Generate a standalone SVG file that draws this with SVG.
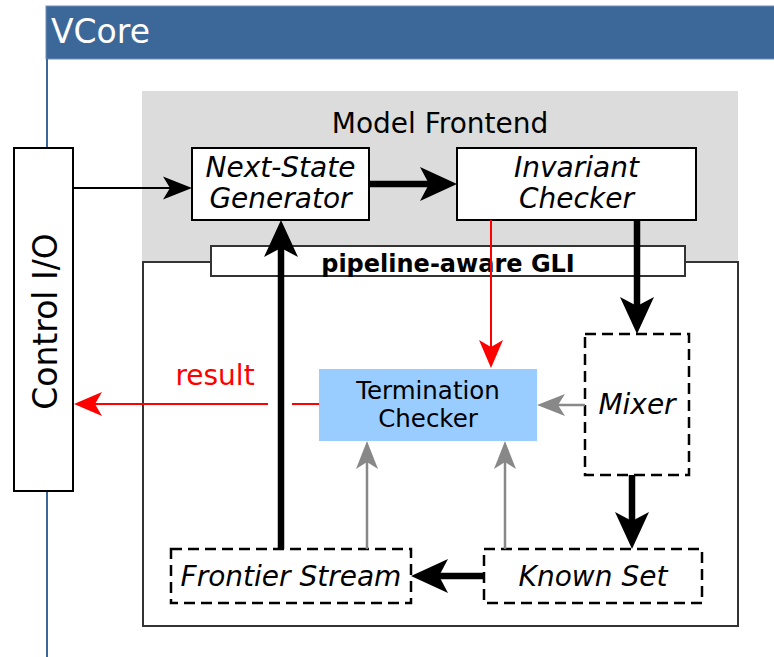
<svg xmlns="http://www.w3.org/2000/svg" width="774" height="657" viewBox="0 0 774 657">
<style>
text{font-family:"DejaVu Sans","Liberation Sans",sans-serif}
.box{fill:#fff;stroke:#000;stroke-width:2}
.dash{fill:#fff;stroke:#000;stroke-width:2.5;stroke-dasharray:11 6}
.lbl{font-size:28px;font-style:italic;text-anchor:middle;fill:#000}
.thick{stroke:#000;stroke-width:6.5;fill:none}
.thin{stroke:#000;stroke-width:2;fill:none}
.red{stroke:#ff0000;stroke-width:2;fill:none}
.gray{stroke:#888;stroke-width:2.5;fill:none}
</style>
<defs>
<marker id="mThick" markerUnits="userSpaceOnUse" markerWidth="40" markerHeight="40" refX="9" refY="0" orient="auto" overflow="visible"><path d="M0,-17 L37,0 L0,17 L9,0 Z" fill="#000"/></marker>
<marker id="mThin" markerUnits="userSpaceOnUse" markerWidth="30" markerHeight="30" refX="7" refY="0" orient="auto" overflow="visible"><path d="M0,-11.5 L29,0 L0,11.5 L7,0 Z" fill="#000"/></marker>
<marker id="mRed" markerUnits="userSpaceOnUse" markerWidth="30" markerHeight="30" refX="7" refY="0" orient="auto" overflow="visible"><path d="M0,-12 L28,0 L0,12 L7,0 Z" fill="#ff0000"/></marker>
<marker id="mGray" markerUnits="userSpaceOnUse" markerWidth="30" markerHeight="30" refX="7" refY="0" orient="auto" overflow="visible"><path d="M0,-11 L28,0 L0,11 L7,0 Z" fill="#888"/></marker>
</defs>
<rect width="774" height="657" fill="#fff"/>
<g id="vcore">
<rect x="46" y="6" width="730" height="53" fill="#3c6899" stroke="#6f90b8" stroke-width="1"/>
<line x1="47" y1="59" x2="47" y2="657" stroke="#3c6899" stroke-width="2"/>
<text x="51" y="43" font-size="33" fill="#fff">VCore</text>
</g>
<g id="model-frontend">
<rect x="142" y="91" width="596" height="171" fill="#dcdcdc"/>
<text x="440" y="133" font-size="28" text-anchor="middle" fill="#000">Model Frontend</text>
</g>
<g id="gli-region">
<rect x="143" y="262" width="595" height="364" fill="#fff" stroke="#333" stroke-width="2"/>
</g>
<g id="gli-bar">
<rect x="211" y="246" width="474" height="30" fill="#fff" stroke="#333" stroke-width="2"/>
<text x="448" y="272" font-size="24" font-weight="bold" text-anchor="middle" fill="#000">pipeline-aware GLI</text>
</g>
<g id="control-io">
<rect x="14" y="148" width="59" height="343" class="box"/>
<text transform="translate(57,321.5) rotate(-90)" font-size="33" text-anchor="middle" fill="#000">Control I/O</text>
</g>
<g id="next-state">
<rect x="192" y="148" width="177" height="72" class="box"/>
<text x="280.5" y="177" class="lbl">Next-State</text>
<text x="280.5" y="208" class="lbl">Generator</text>
</g>
<g id="invariant">
<rect x="457" y="148" width="239" height="72" class="box"/>
<text x="576.5" y="177" class="lbl">Invariant</text>
<text x="576.5" y="208" class="lbl">Checker</text>
</g>
<g id="termination">
<rect x="319" y="369" width="218" height="72" fill="#99ccff"/>
<text x="428" y="399" font-size="24.5" text-anchor="middle" fill="#000">Termination</text>
<text x="428" y="427" font-size="24.5" text-anchor="middle" fill="#000">Checker</text>
</g>
<g id="mixer">
<rect x="585" y="334" width="104" height="141" class="dash"/>
<text x="637" y="414" class="lbl">Mixer</text>
</g>
<g id="known-set">
<rect x="484" y="549" width="218" height="54" class="dash"/>
<text x="593" y="586" class="lbl">Known Set</text>
</g>
<g id="frontier">
<rect x="171" y="549" width="240" height="54" class="dash"/>
<text x="291" y="586" class="lbl">Frontier Stream</text>
</g>
<g id="connectors">
<line x1="73" y1="188" x2="170" y2="188" class="thin" marker-end="url(#mThin)"/>
<line x1="369" y1="184" x2="429" y2="184" class="thick" marker-end="url(#mThick)"/>
<line x1="637" y1="220" x2="637" y2="306" class="thick" marker-end="url(#mThick)"/>
<line x1="632" y1="475" x2="632" y2="521" class="thick" marker-end="url(#mThick)"/>
<line x1="484" y1="576" x2="439" y2="576" class="thick" marker-end="url(#mThick)"/>
<line x1="281" y1="549" x2="281" y2="248" class="thick" marker-end="url(#mThick)"/>
<line x1="491" y1="220" x2="491" y2="347" class="red" marker-end="url(#mRed)"/>
<line x1="585" y1="405" x2="558" y2="405" class="gray" marker-end="url(#mGray)"/>
<line x1="367" y1="549" x2="367" y2="462" class="gray" marker-end="url(#mGray)"/>
<line x1="505" y1="549" x2="505" y2="462" class="gray" marker-end="url(#mGray)"/>
<line x1="319" y1="404" x2="292" y2="404" class="red"/>
<line x1="268" y1="404" x2="95" y2="404" class="red" marker-end="url(#mRed)"/>
<text x="215" y="385" font-size="28" text-anchor="middle" fill="#ff0000">result</text>
</g>
</svg>
